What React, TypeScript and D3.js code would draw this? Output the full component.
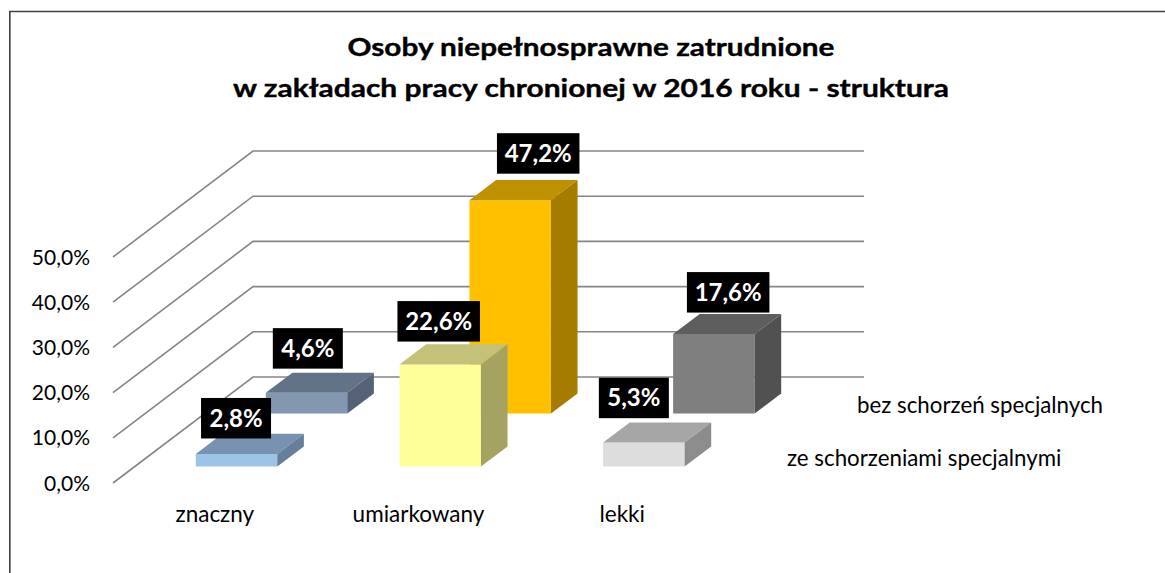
import React from "react";
import * as d3 from "d3";

const categories = ["znaczny", "umiarkowany", "lekki"];
const seriesNames = ["ze schorzeniami specjalnymi", "bez schorzeń specjalnych"];
const valuesZe = [2.8, 22.6, 5.3];
const valuesBez = [4.6, 47.2, 17.6];
const yTicks = [0, 10, 20, 30, 40, 50];
const titleLines = [
  "Osoby niepełnosprawne zatrudnione",
  "w zakładach pracy chronionej w 2016 roku - struktura",
];

// styles: [front, top, side] per category for each series
const colorsZe = [
  ["#9DC3E6", "#7893B1", "#667F9A"],
  ["#FFFF99", "#C4C279", "#A4A362"],
  ["#DDDDDD", "#A6A6A6", "#8C8C8C"],
];
const colorsBez = [
  ["#8497B0", "#627387", "#556276"],
  ["#FFC000", "#BF9000", "#A67C00"],
  ["#7F7F7F", "#5E5E5E", "#515151"],
];
// label nudges (layout tweaks, px)
const nudgeZe = [[-0.5, 4.7], [-1.5, -2.7], [-10, -4.3]];
const nudgeBez = [[1.3, -4], [28, -6.4], [14.3, -1.3]];

const W = 1165;
const H = 573;
const DX = 140;
const DY = -106;

export default function App() {
  const x = d3.scaleBand<string>().domain(categories).range([113, 724]).paddingInner(0).paddingOuter(0);
  const y = d3.scaleLinear().domain([0, 50]).range([483, 257]);
  const z = d3.scaleBand<string>().domain(seriesNames).range([0, 1]);
  const fmt = (v: number) => d3.format(".1f")(v).replace(".", ",") + "%";

  const P = (xs: number, v: number, zz: number): [number, number] => [xs + zz * DX, y(v) + zz * DY];
  const poly = (pts: [number, number][]) => pts.map((p) => p.join(",")).join(" ");

  const series = [
    { name: seriesNames[1], values: valuesBez, colors: colorsBez, nudge: nudgeBez },
    { name: seriesNames[0], values: valuesZe, colors: colorsZe, nudge: nudgeZe },
  ];

  const bars: any[] = [];
  const labels: any[] = [];
  series.forEach((s) => {
    const zb = z(s.name)!;
    const zw = z.bandwidth();
    const z0 = zb + zw * 0.31;
    const z1 = zb + zw * 0.69;
    s.values.forEach((v, i) => {
      const c = categories[i];
      const bw = x.bandwidth() * 0.4;
      const xL = x(c)! + (x.bandwidth() - bw) / 2;
      const xR = xL + bw;
      const [fc, tc, sc] = s.colors[i];
      bars.push(
        <g key={s.name + c}>
          <polygon points={poly([P(xL, 0, z0), P(xR, 0, z0), P(xR, v, z0), P(xL, v, z0)])} fill={fc} />
          <polygon points={poly([P(xL, v, z0), P(xR, v, z0), P(xR, v, z1), P(xL, v, z1)])} fill={tc} />
          <polygon points={poly([P(xR, 0, z0), P(xR, 0, z1), P(xR, v, z1), P(xR, v, z0)])} fill={sc} />
        </g>
      );
      const txt = fmt(v);
      const boxW = 20 + 12.5 * txt.length;
      const boxH = 40.5;
      const cx = P((xL + xR) / 2, v, z0)[0] + s.nudge[i][0];
      const bottom = P(xL, v, z1)[1] + s.nudge[i][1];
      labels.push(
        <g key={"l" + s.name + c}>
          <rect x={cx - boxW / 2} y={bottom - boxH} width={boxW} height={boxH} fill="#000" />
          <text
            x={cx}
            y={bottom - boxH / 2 + 8.5}
            textAnchor="middle"
            fill="#fff"
            fontFamily="Lato, sans-serif"
            fontWeight="bold"
            fontSize={24}
          >
            {txt}
          </text>
        </g>
      );
    });
  });

  const x0 = 113;
  const x1 = 724;

  return (
    <svg width={W} height={H} style={{ position: "absolute", left: 0, top: 0, background: "#fff" }}>
      <rect x={0} y={0} width={W} height={H} fill="#fff" />
      <path d={`M9.8,${H} V11.5 H${W}`} fill="none" stroke="#404040" strokeWidth={1.6} />
      {titleLines.map((t, i) => (
        <text
          key={t}
          x={591}
          y={56 + i * 40.5}
          textAnchor="middle"
          fontFamily="Lato, sans-serif"
          fontWeight="bold"
          fontSize={25.5}
          fill="#000"
          stroke="#000"
          strokeWidth={0.4}
          textLength={i === 0 ? 487 : 716}
          lengthAdjust="spacingAndGlyphs"
        >
          {t}
        </text>
      ))}
      {yTicks.map((t) => {
        const a = P(x0, t, 0);
        const b = P(x0, t, 1);
        const c = P(x1, t, 1);
        return (
          <g key={t}>
            <polyline
              points={poly([a, b, c])}
              fill="none"
              stroke="#868686"
              strokeWidth={1.6}
            />
            <text
              x={90}
              y={a[1] + 7.5}
              textAnchor="end"
              fontFamily="Lato, sans-serif"
              fontSize={21}
              fill="#000"
            >
              {fmt(t)}
            </text>
          </g>
        );
      })}
      {bars}
      {labels}
      {categories.map((c) => (
        <text
          key={c}
          x={x(c)! + x.bandwidth() / 2}
          y={522}
          textAnchor="middle"
          fontFamily="Lato, sans-serif"
          fontSize={22.5}
          fill="#000"
        >
          {c}
        </text>
      ))}
      {seriesNames.map((s) => {
        const zc = z(s)! + z.bandwidth() / 2;
        const p = P(x1, 0, zc);
        return (
          <text
            key={s}
            x={p[0] + 28}
            y={p[1] + 9}
            fontFamily="Lato, sans-serif"
            fontSize={22.3}
            fill="#000"
          >
            {s}
          </text>
        );
      })}
    </svg>
  );
}
